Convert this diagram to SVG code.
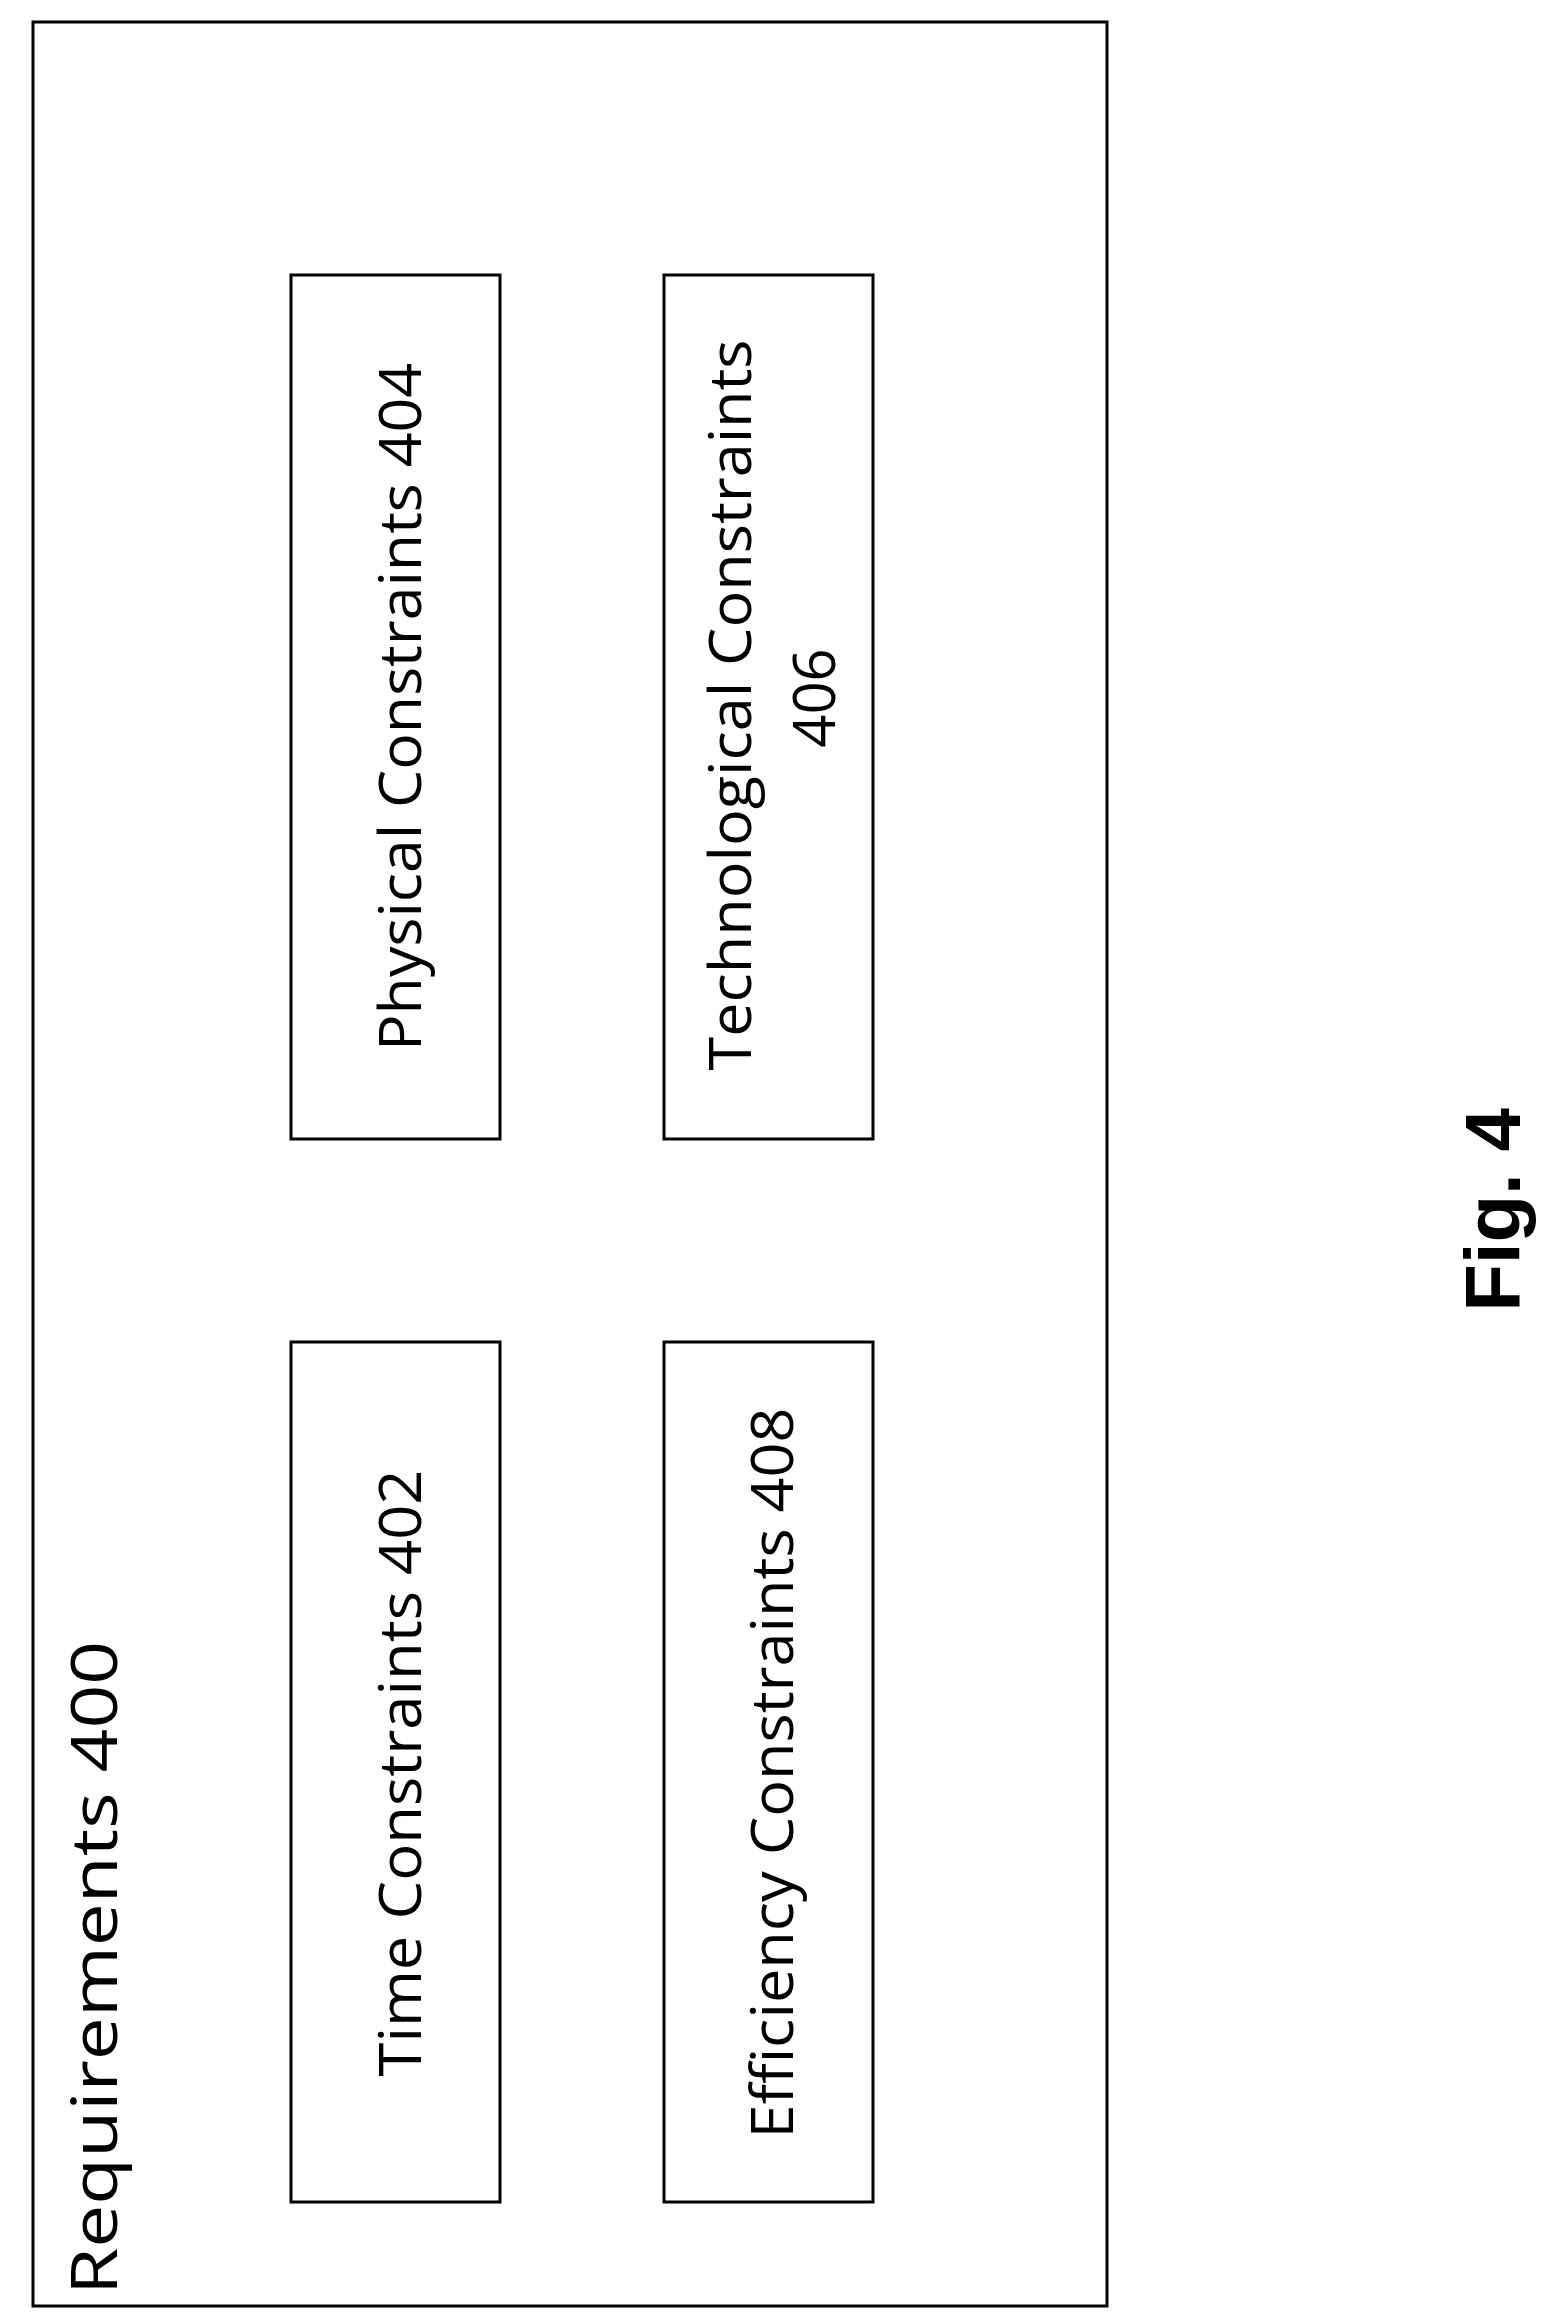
<svg xmlns="http://www.w3.org/2000/svg" width="1564" height="2323" viewBox="0 0 1564 2323">
<style>
rect{fill:#fff;stroke:#000;stroke-width:3}
text{font-family:"Open Sans","Liberation Sans",sans-serif;font-size:58px;fill:#000;text-anchor:middle;dominant-baseline:central}
</style>
<rect x="0" y="0" width="1564" height="2323" style="stroke:none"/>
<g id="req400"><rect x="33" y="22" width="1074" height="2284"/>
<text transform="translate(92,1968) rotate(-90)" textLength="654" lengthAdjust="spacingAndGlyphs" style="font-size:64px">Requirements 400</text></g>
<g id="n404"><rect x="291" y="275" width="209" height="864"/>
<text transform="translate(398,707) rotate(-90)" textLength="688" lengthAdjust="spacingAndGlyphs">Physical Constraints 404</text></g>
<g id="n406"><rect x="664" y="275" width="209" height="864"/>
<text transform="translate(728,705) rotate(-90)" textLength="731" lengthAdjust="spacingAndGlyphs">Technological Constraints</text>
<text transform="translate(812,698) rotate(-90)">406</text></g>
<g id="n402"><rect x="291" y="1342" width="209" height="860"/>
<text transform="translate(398,1773) rotate(-90)" textLength="607" lengthAdjust="spacingAndGlyphs">Time Constraints 402</text></g>
<g id="n408"><rect x="664" y="1342" width="209" height="860"/>
<text transform="translate(770,1773) rotate(-90)" textLength="731" lengthAdjust="spacingAndGlyphs">Efficiency Constraints 408</text></g>
<g id="connectors"></g>
<text transform="translate(1493,1210) rotate(-90)" style="font-family:'Liberation Sans',sans-serif;font-weight:bold;font-size:78px">Fig. 4</text>
</svg>
